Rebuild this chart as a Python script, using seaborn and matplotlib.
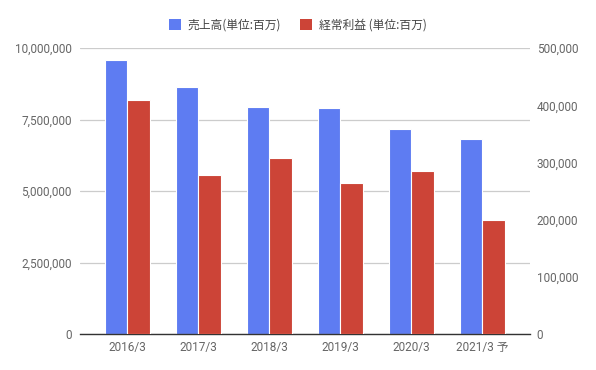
import matplotlib
matplotlib.use("Agg")
import matplotlib.pyplot as plt
from matplotlib.ticker import FuncFormatter
from matplotlib.patches import Patch
import seaborn as sns
import pandas as pd

years = ["2016/3", "2017/3", "2018/3", "2019/3", "2020/3", "2021/3 予"]
sales = [9580000, 8630000, 7930000, 7890000, 7160000, 6810000]
profit = [410000, 278000, 307700, 263500, 285000, 199300]
series = ["売上高(単位:百万)", "経常利益 (単位:百万)"]
colors = ["#5E7CF2", "#CC4437"]

sns.set_theme(style="white")
plt.rcParams["font.family"] = ["Roboto", "Noto Sans CJK JP", "DejaVu Sans"]

sales_df = pd.DataFrame({"year": years, "value": sales, "series": series[0]})
profit_df = pd.DataFrame({"year": years, "value": profit, "series": series[1]})

fig = plt.figure(figsize=(5.96, 3.70), dpi=100)
ax = fig.add_axes([0.134, 0.097, 0.755, 0.773])
ax2 = ax.twinx()

for a, df in [(ax, sales_df), (ax2, profit_df)]:
    sns.barplot(data=df, x="year", y="value", hue="series", hue_order=series,
                palette=colors, saturation=1, dodge=True, width=0.64, ax=a,
                edgecolor="white", linewidth=0.8, legend=False)

ax.set_ylim(0, 10000000)
ax2.set_ylim(0, 500000)
ax.set_yticks([0, 2500000, 5000000, 7500000, 10000000])
ax2.set_yticks([0, 100000, 200000, 300000, 400000, 500000])
fmt = FuncFormatter(lambda v, p: f"{int(v):,}")
ax.yaxis.set_major_formatter(fmt)
ax2.yaxis.set_major_formatter(fmt)
ax.set_xlim(-0.67, 5.67)

ax.grid(axis="y", color="#cccccc", linewidth=0.9)
ax.set_axisbelow(True)
ax2.grid(False)
for a in (ax, ax2):
    for s in a.spines.values():
        s.set_visible(False)
    a.set_xlabel("")
    a.set_ylabel("")
    a.tick_params(length=0, colors="#666666", labelsize=8.5)
ax.spines["bottom"].set_visible(True)
ax.spines["bottom"].set_color("#333333")
ax.spines["bottom"].set_linewidth(1)
ax.tick_params(axis="y", pad=6)
ax2.tick_params(axis="y", pad=5)
ax.tick_params(axis="x", pad=5)
for lbl in ax.get_xticklabels():
    lbl.set_family(["Roboto", "Noto Sans CJK JP"])

handles = [Patch(facecolor=c, edgecolor="none") for c in colors]
fig.legend(handles, series, loc="center", bbox_to_anchor=(0.5, 0.932), ncol=2,
           frameon=False, handlelength=1.0, handleheight=1.0,
           handletextpad=0.6, columnspacing=1.6,
           prop={"family": ["Noto Sans CJK JP", "DejaVu Sans"], "size": 8.5})
for t in fig.legends[0].get_texts():
    t.set_color("#444444")

fig.savefig("out.png", dpi=100)
